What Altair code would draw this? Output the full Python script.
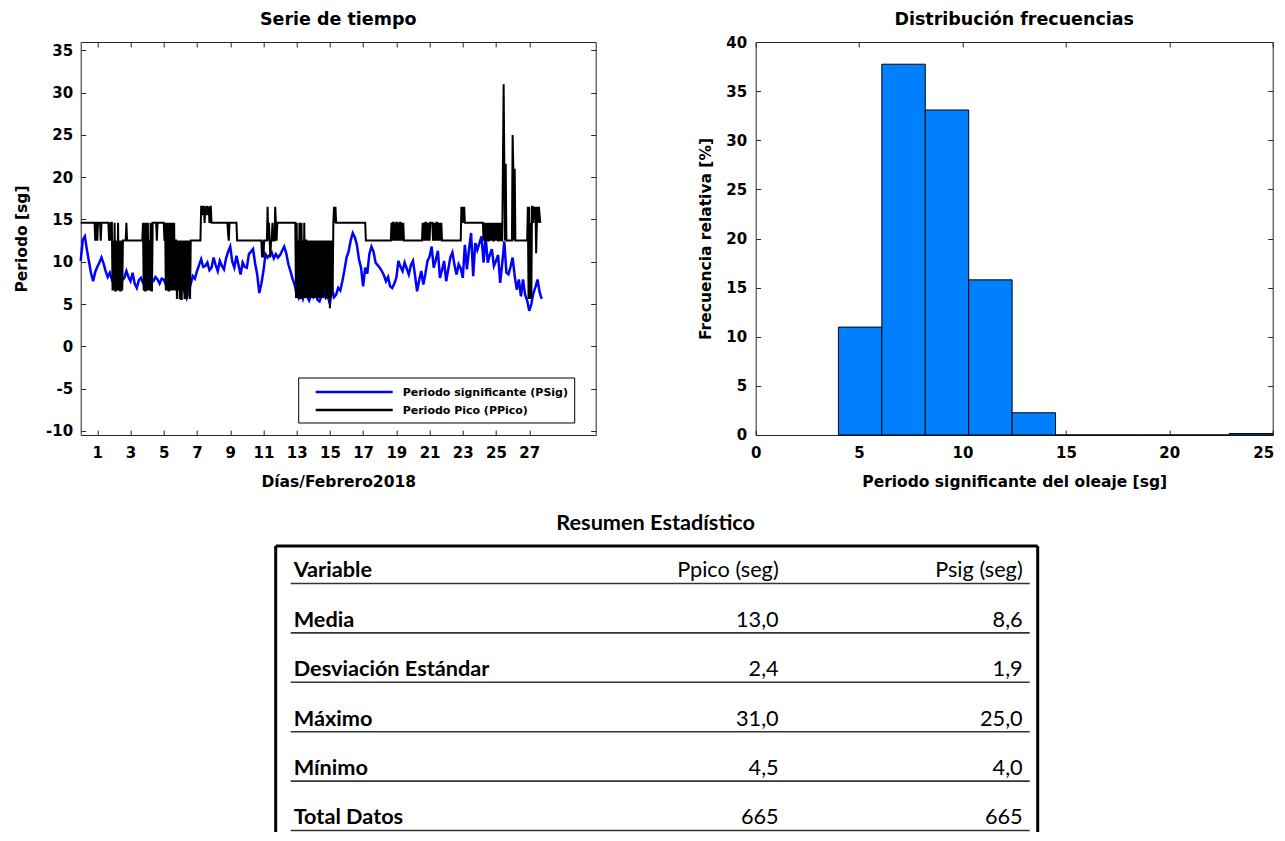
import altair as alt
import pandas as pd

# ---------------- data ----------------
# Periodo significante (PSig), one value every 3 hours from 1 Feb 00:00
psig_vals = [
    10.1, 12.6, 13.0, 11.4, 10.0, 8.6, 7.7, 8.8,
    9.4, 9.9, 10.5, 9.8, 8.9, 8.2, 8.7, 7.9,
    8.3, 8.7, 7.9, 8.4, 7.8, 8.1, 8.9, 8.2,
    7.7, 8.7, 7.4, 6.9, 7.8, 8.1, 7.5, 7.9,
    8.4, 8.1, 7.6, 7.7, 8.2, 7.9, 7.4, 8.0,
    7.9, 7.3, 7.7, 8.1, 7.3, 7.0, 7.7, 7.4,
    7.2, 7.5, 6.4, 5.7, 6.5, 7.4, 8.3, 8.0,
    8.9, 9.6, 10.3, 9.4, 9.5, 9.9, 9.0, 9.3,
    10.5, 9.6, 8.9, 10.1, 9.5, 9.1, 10.4, 11.2,
    11.8, 10.0, 9.3, 10.7, 9.6, 8.5, 9.9, 9.4,
    9.3, 10.9, 11.2, 11.5, 9.8, 8.5, 6.3, 7.4,
    8.9, 10.9, 10.5, 10.8, 11.1, 10.4, 10.9, 10.5,
    10.8, 11.3, 11.8, 11.0, 9.7, 8.9, 8.0, 7.3,
    6.2, 5.7, 6.3, 5.6, 6.5, 5.9, 5.4, 6.1,
    5.8, 6.4, 5.5, 5.3, 6.0, 6.5, 5.7, 5.9,
    5.0, 6.9, 5.8, 6.1, 6.9, 6.6, 7.7, 9.0,
    10.5, 11.2, 12.5, 13.4, 12.9, 12.0, 10.3, 9.3,
    7.1, 9.3, 8.6, 10.9, 11.8, 11.2, 9.9, 9.6,
    9.3, 8.9, 8.4, 7.7, 8.2, 7.1, 6.9, 7.4,
    8.1, 10.1, 9.4, 8.9, 9.9, 9.2, 8.5, 9.6,
    10.1, 8.4, 6.5, 7.8, 8.9, 7.3, 8.6, 10.1,
    10.6, 11.8, 9.3, 10.2, 11.3, 8.1, 9.0, 10.1,
    7.7, 9.1, 10.5, 11.1, 9.6, 8.5, 9.7, 9.2,
    8.1, 12.0, 9.1, 11.5, 13.4, 8.3, 12.2, 11.4,
    12.2, 13.0, 9.9, 13.0, 9.9, 10.8, 11.5, 9.5,
    10.1, 10.8, 7.5, 9.8, 12.4, 8.7, 8.5, 9.4,
    10.5, 8.3, 6.7, 7.9, 5.9, 7.9, 6.1, 5.4,
    4.2, 5.0, 6.3, 7.0, 7.9, 6.4, 5.6,
]
psig_step_h = 3

# Periodo Pico (PPico), hourly, written as runs of (value, hours)
ppico_runs = [
    (14.6, 18),
    (14.6, 3), (12.5, 1), (14.6, 2), (12.5, 1), (14.6, 4), (12.5, 1),
    (14.6, 10),
    (14.6, 1), (12.5, 1), (14.6, 1), (12.5, 1), (14.6, 2),
    (6.6, 1), (12.5, 1), (6.6, 1), (14.6, 1), (6.6, 2), (12.5, 1), (6.6, 1), (14.6, 1),
    (6.6, 1), (12.5, 1), (6.6, 2), (12.5, 1), (6.6, 1),
    (12.5, 5), (14.6, 1), (12.5, 23),
    (14.6, 1), (6.6, 1), (14.6, 1), (6.6, 2), (14.6, 1), (6.6, 1), (14.6, 1), (6.6, 1),
    (12.5, 1), (6.6, 1), (14.6, 1), (6.6, 2), (14.6, 1),
    (14.6, 5), (12.5, 1), (14.6, 10), (12.5, 1),
    (14.6, 1), (6.6, 1), (14.6, 1), (6.6, 1), (14.6, 1), (6.6, 2), (14.6, 1), (6.6, 1),
    (14.6, 1), (6.6, 1), (14.6, 1), (6.6, 1), (14.6, 1), (6.6, 1), (12.5, 1),
    (12.5, 1), (5.6, 1), (12.5, 1), (6.6, 1), (12.5, 1), (5.6, 1), (12.5, 1), (5.6, 2),
    (12.5, 1), (6.6, 1), (12.5, 1), (5.6, 1), (12.5, 1), (5.6, 1), (12.5, 1), (5.6, 1),
    (12.5, 1), (6.6, 1), (12.5, 1), (5.6, 1), (12.5, 1),
    (12.5, 14),
    (16.5, 2), (15.5, 1), (16.5, 2), (14.6, 1), (16.5, 1), (15.5, 1), (16.5, 2), (15.5, 1),
    (16.5, 1), (14.6, 1), (16.5, 2), (14.6, 1),
    (14.6, 23), (13.2, 1), (12.5, 1), (14.6, 11), (12.5, 36),
    (10.5, 1), (12.5, 1), (10.5, 1), (12.5, 5),
    (16.5, 1), (12.5, 1), (14.6, 1), (12.5, 1), (10.5, 1), (12.5, 2), (14.6, 1), (12.5, 3),
    (16.5, 1), (14.6, 1), (12.5, 1), (14.6, 1),
    (14.6, 25),
    (14.6, 1), (5.7, 1), (14.6, 1), (5.7, 1), (12.5, 1), (5.7, 1), (14.6, 1), (5.7, 2),
    (14.6, 1), (5.7, 1), (12.5, 1), (5.7, 1), (14.6, 1), (5.7, 1), (12.5, 1),
    (12.5, 1), (5.7, 1), (12.5, 1), (5.7, 1), (6.6, 1), (12.5, 1), (5.7, 1), (12.5, 1),
    (5.7, 1), (12.5, 1), (6.6, 1), (5.7, 1), (12.5, 1), (5.7, 1), (12.5, 1), (5.7, 1),
    (12.5, 1), (5.7, 1), (6.6, 1), (12.5, 1), (5.7, 1), (12.5, 1), (5.7, 1), (12.5, 1),
    (5.7, 1), (12.5, 1), (6.6, 1), (12.5, 1), (5.7, 1), (12.5, 1), (5.7, 1), (12.5, 1),
    (5.7, 1), (12.5, 1), (4.5, 1), (12.5, 1), (5.7, 1), (12.5, 1), (6.6, 1),
    (14.6, 1), (16.5, 1), (14.6, 1), (16.5, 1), (14.6, 3),
    (14.6, 40),
    (12.5, 37),
    (14.6, 1), (12.5, 1), (14.6, 2), (12.5, 1), (14.6, 1), (12.5, 1), (14.6, 2), (12.5, 1),
    (14.6, 1), (12.5, 1), (14.6, 2), (12.5, 1), (14.6, 1), (12.5, 1), (14.6, 1), (12.5, 1),
    (12.5, 26),
    (14.6, 1), (12.5, 1), (14.6, 1), (12.5, 1), (14.6, 2), (12.5, 1), (14.6, 1), (12.5, 1),
    (14.6, 1), (12.5, 1), (14.6, 4), (12.5, 1), (14.6, 1), (12.5, 1), (14.6, 1), (12.5, 1),
    (14.6, 2), (12.5, 1), (14.6, 1), (12.5, 1), (14.6, 1), (12.5, 1), (14.6, 1), (12.5, 1),
    (12.5, 27),
    (16.5, 1), (14.6, 1), (16.5, 1), (14.6, 1), (16.5, 1), (14.6, 1),
    (14.6, 26),
    (12.5, 1), (14.6, 1), (12.5, 2), (14.6, 1), (12.5, 1), (14.6, 1), (12.5, 2), (14.6, 1),
    (12.5, 1), (14.6, 1), (12.5, 1), (14.6, 1), (12.5, 2), (14.6, 1), (12.5, 1), (14.6, 1),
    (12.5, 1), (14.6, 1), (12.5, 2), (14.6, 1), (12.5, 1), (14.6, 1), (12.5, 2),
    (21.6, 1), (31.0, 1), (21.6, 1), (12.5, 1), (21.6, 1), (12.5, 1),
    (12.5, 8),
    (25.0, 1), (21.0, 1), (12.5, 1), (21.0, 1),
    (12.5, 18),
    (16.5, 1), (5.6, 1), (16.5, 1), (5.6, 1), (14.6, 1), (5.6, 1), (16.5, 1),
    (16.5, 1), (14.6, 1), (16.5, 1), (15.5, 1), (16.5, 1), (11.0, 1), (14.6, 1), (16.5, 1),
    (14.6, 1), (16.5, 1), (15.5, 1), (14.6, 1),
]

series_names = ["Periodo significante (PSig)", "Periodo Pico (PPico)"]
series_colors = ["#0000FF", "#000000"]
day_ticks = [1, 3, 5, 7, 9, 11, 13, 15, 17, 19, 21, 23, 25, 27]
ts_y_ticks = [-10, -5, 0, 5, 10, 15, 20, 25, 30, 35]

# histogram of PSig (bins of 2.1 s from 4.0 s)
hist_lo = [4.0, 6.1, 8.2, 10.3, 12.4, 14.5, 16.6, 18.7, 20.8, 22.9]
hist_hi = [6.1, 8.2, 10.3, 12.4, 14.5, 16.6, 18.7, 20.8, 22.9, 25.0]
hist_pct = [10.98, 37.74, 33.08, 15.79, 2.26, 0.0, 0.0, 0.0, 0.0, 0.15]
hist_x_ticks = [0, 5, 10, 15, 20, 25]
hist_y_ticks = [0, 5, 10, 15, 20, 25, 30, 35, 40]

# summary table
table_title = "Resumen Estadístico"
stat_vars = ["Variable", "Media", "Desviación Estándar", "Máximo", "Mínimo", "Total Datos"]
stat_ppico = ["Ppico (seg)", "13,0", "2,4", "31,0", "4,5", "665"]
stat_psig = ["Psig (seg)", "8,6", "1,9", "25,0", "4,0", "665"]

# ---------------- frames ----------------
pp_vals = []
for v, n in ppico_runs:
    pp_vals += [v] * n
pp_days = [h / 24 for h in range(len(pp_vals))]
ps_days = [i * psig_step_h / 24 for i in range(len(psig_vals))]

df_sig = pd.DataFrame({"dia": ps_days, "valor": psig_vals})
df_pico = pd.DataFrame({"dia": pp_days, "valor": pp_vals})
df_hist = pd.DataFrame({"lo": hist_lo, "hi": hist_hi, "pct": hist_pct})
df_tab = pd.DataFrame({"fila": list(range(len(stat_vars))), "var": stat_vars,
                       "ppico": stat_ppico, "psig": stat_psig})
df_leg = pd.DataFrame({"serie": series_names})
one = pd.DataFrame({"k": [0]})

FONT = "DejaVu Sans"
TFONT = "Lato"
TSIZE = 21.7
AXC = "#262626"


def axis_main(orient, values, title, label_pad, title_pad, **kw):
    return alt.Axis(orient=orient, values=values, title=title, offset=-5, domain=False,
                    ticks=True, tickSize=5, tickColor=AXC, tickWidth=1, grid=False,
                    labelFont=FONT, labelFontSize=15, labelFontWeight="bold", labelColor="#000",
                    labelPadding=label_pad, labelFlush=False, labelOverlap=False,
                    titleFont=FONT, titleFontSize=15.5, titleFontWeight="bold",
                    titleColor="#000", titlePadding=title_pad, **kw)


def axis_mirror(orient, values):
    return alt.Axis(orient=orient, values=values, title=None, offset=-5, domain=False,
                    ticks=True, tickSize=5, tickColor=AXC, tickWidth=1, grid=False,
                    labels=False)


def title(txt, off):
    return alt.Title(txt, font=FONT, fontSize=17.5, fontWeight="bold", color="#000",
                     anchor="middle", frame="group", offset=off)


# ---------------- time series ----------------
TS_W, TS_H = 515, 393
xs = alt.Scale(domain=[0, 31], nice=False, zero=False)
ys = alt.Scale(domain=[-10.5, 36], nice=False, zero=False)

blue = alt.Chart(df_sig).mark_line(color=series_colors[0], strokeWidth=2.5).encode(
    x=alt.X("dia:Q", scale=xs, axis=axis_main("bottom", day_ticks, "Días/Febrero2018", 11, 13.5)),
    y=alt.Y("valor:Q", scale=ys, axis=axis_main("left", ts_y_ticks, "Periodo [sg]", 8, 15.8,
                                                labelExpr="toString(datum.value)")),
)
black = alt.Chart(df_pico).mark_line(color=series_colors[1], strokeWidth=2).encode(
    x=alt.X("dia:Q", scale=xs, axis=axis_mirror("top", day_ticks)),
    y=alt.Y("valor:Q", scale=ys, axis=axis_mirror("right", ts_y_ticks)),
)

leg_box = alt.Chart(one).mark_rect(fill="white", stroke="#000", strokeWidth=1).encode(
    x=alt.value(218), x2=alt.value(494), y=alt.value(336), y2=alt.value(381))
leg_layers = [leg_box]
for i, (name, col) in enumerate(zip(series_names, series_colors)):
    yy = 350 + 18 * i
    leg_layers.append(alt.Chart(one).mark_rule(color=col, strokeWidth=2.5).encode(
        x=alt.value(235), x2=alt.value(312), y=alt.value(yy)))
    leg_layers.append(alt.Chart(df_leg.iloc[[i]]).mark_text(
        align="left", baseline="middle", font=FONT, fontSize=11, fontWeight="bold",
        color="#000").encode(x=alt.value(322), y=alt.value(yy + 0.5), text="serie:N"))

ts = alt.layer(blue, black, *leg_layers).resolve_axis(
    x="independent", y="independent").properties(
    width=TS_W, height=TS_H, title=title("Serie de tiempo", 13))

# ---------------- histogram ----------------
HI_W, HI_H = 517, 393
hx = alt.Scale(domain=[0, 25], nice=False, zero=False)
hy = alt.Scale(domain=[0, 40], nice=False)
bars = alt.Chart(df_hist).mark_bar(color="#0080FF", stroke="#000", strokeWidth=1).encode(
    x=alt.X("lo:Q", scale=hx, axis=axis_main(
        "bottom", hist_x_ticks, "Periodo significante del oleaje [sg]", 11, 13.5,
        labelAlign={"condition": {"test": "datum.value >= 25", "value": "right"}, "value": "center"},
        labelOffset={"condition": {"test": "datum.value >= 25", "value": 1}, "value": 0})),
    x2="hi:Q",
    y=alt.Y("pct:Q", scale=hy, axis=axis_main("left", hist_y_ticks, "Frecuencia relativa [%]", 9, 12.5)),
    y2=alt.datum(0),
)
bars_mirror = alt.Chart(df_hist).mark_bar(opacity=0).encode(
    x=alt.X("lo:Q", scale=hx, axis=axis_mirror("top", hist_x_ticks)),
    x2="hi:Q",
    y=alt.Y("pct:Q", scale=hy, axis=axis_mirror("right", hist_y_ticks)),
    y2=alt.datum(0),
)
hist = alt.layer(bars, bars_mirror).resolve_axis(
    x="independent", y="independent").properties(
    width=HI_W, height=HI_H, title=title("Distribución frecuencias", 7))

# ---------------- table ----------------
# the table view is given the width of a grid cell; its box is drawn wider
TB_W, TB_H = 515, 286
row_y = alt.Y("fila:Q", scale=alt.Scale(domain=[0, 5], range=[24.5, 271.5]), axis=None)
tbase = alt.Chart(df_tab)
t_var = tbase.mark_text(align="left", baseline="middle", font=TFONT, fontSize=TSIZE,
                        fontWeight="bold", color="#000").encode(
    x=alt.value(213), y=row_y, text="var:N")
t_pp = tbase.mark_text(align="right", baseline="middle", font=TFONT, fontSize=TSIZE,
                       color="#000").encode(x=alt.value(698), y=row_y, text="ppico:N")
t_ps = tbase.mark_text(align="right", baseline="middle", font=TFONT, fontSize=TSIZE,
                       color="#000").encode(x=alt.value(942), y=row_y, text="psig:N")
t_line = tbase.mark_rule(color="#333333", strokeWidth=1.6, yOffset=13).encode(
    y=row_y, x=alt.value(210), x2=alt.value(949))
box_top = alt.Chart(one).mark_rule(color="#000", strokeWidth=3).encode(
    x=alt.value(195), x2=alt.value(957), y=alt.value(0))
box_l = alt.Chart(one).mark_rule(color="#000", strokeWidth=3).encode(
    x=alt.value(195), y=alt.value(0), y2=alt.value(TB_H))
box_r = alt.Chart(one).mark_rule(color="#000", strokeWidth=3).encode(
    x=alt.value(957), y=alt.value(0), y2=alt.value(TB_H))
t_title = alt.Chart(pd.DataFrame({"t": [table_title]})).mark_text(
    align="center", baseline="middle", font=TFONT, fontSize=TSIZE, fontWeight="bold",
    color="#000").encode(x=alt.value(575), y=alt.value(-22.5), text="t:N")

table = alt.layer(box_top, box_l, box_r, t_line, t_var, t_pp, t_ps, t_title).properties(
    width=TB_W, height=TB_H, view=alt.ViewBackground(stroke="transparent"))

# ---------------- assemble ----------------
chart = alt.concat(ts, hist, table, columns=2, spacing={"row": 111, "column": 160},
                   bounds="flush").properties(
    padding={"left": 5.7, "top": 2, "right": 0, "bottom": 0}
).configure_view(stroke=AXC, strokeWidth=1)

chart.save("out.html", embed_options={"renderer": "svg", "actions": False})
